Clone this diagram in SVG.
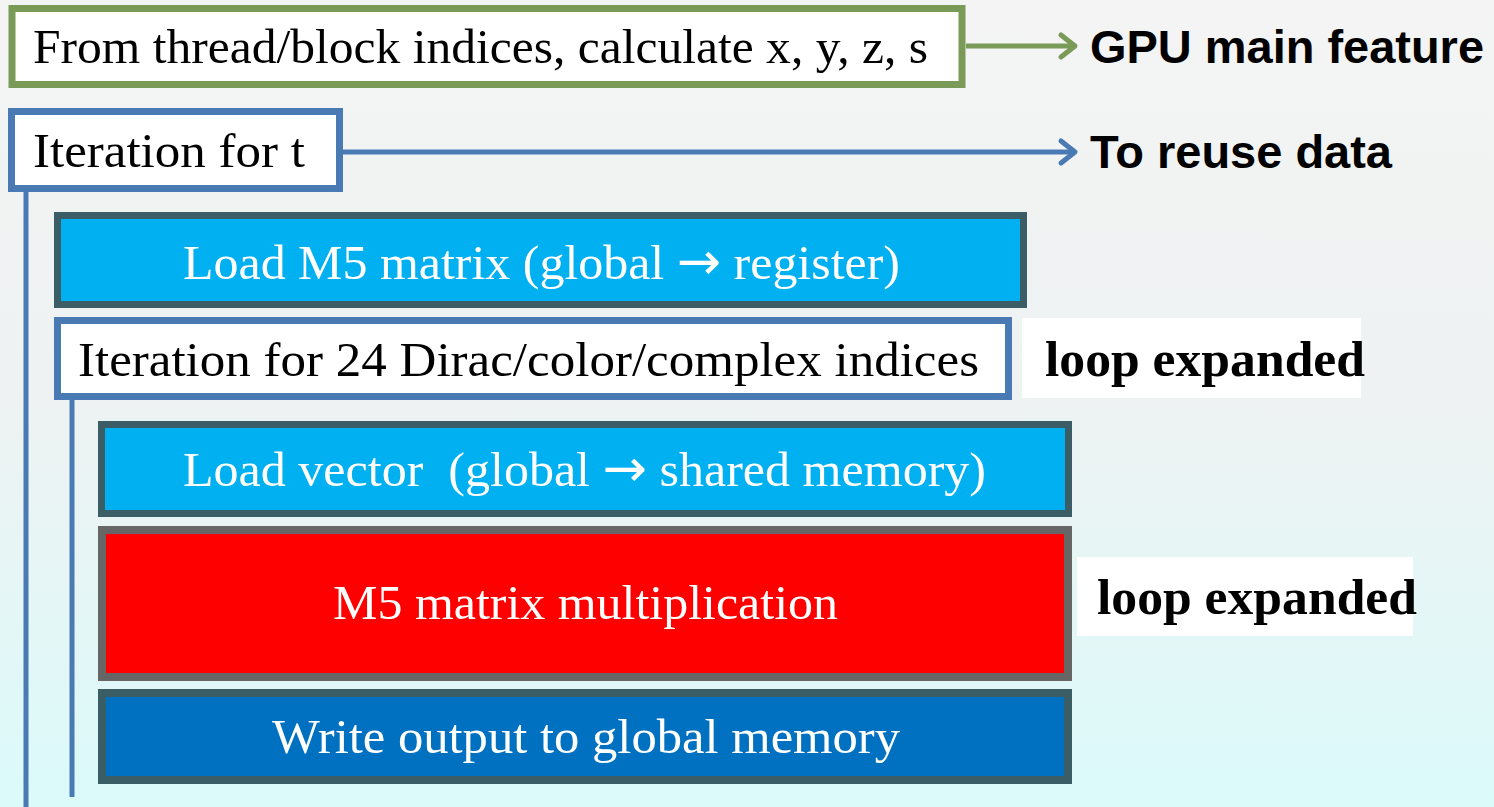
<svg xmlns="http://www.w3.org/2000/svg" width="1494" height="807" viewBox="0 0 1494 807">
<defs>
<linearGradient id="bg" x1="0" y1="0" x2="0" y2="1">
<stop offset="0" stop-color="#f4f4f4"/>
<stop offset="0.5" stop-color="#eef2f2"/>
<stop offset="1" stop-color="#dbfafa"/>
</linearGradient>
<marker id="ahG" markerUnits="userSpaceOnUse" markerWidth="30" markerHeight="32" viewBox="-20 -16 30 32" refX="0" refY="0" orient="auto">
<path d="M-14,-11 L0,0 L-14,11" fill="none" stroke="#7a9a57" stroke-width="5" stroke-linecap="round" stroke-linejoin="round"/>
</marker>
<marker id="ahB" markerUnits="userSpaceOnUse" markerWidth="30" markerHeight="32" viewBox="-20 -16 30 32" refX="0" refY="0" orient="auto">
<path d="M-14,-11 L0,0 L-14,11" fill="none" stroke="#4a7ab4" stroke-width="5" stroke-linecap="round" stroke-linejoin="round"/>
</marker>
</defs>
<style>
.serif{font-family:"Liberation Serif","Times New Roman",serif;font-size:49px;}
.dark{fill:#000;}
.light{fill:#fff;}
.arw{font-family:"DejaVu Sans",sans-serif;font-size:52px;}
.bold{font-family:"Liberation Serif","Times New Roman",serif;font-size:51px;font-weight:bold;fill:#000;}
.sans{font-family:"Liberation Sans",Arial,sans-serif;font-size:47px;font-weight:bold;fill:#000;}
.cyan{fill:#00b0f0;stroke:#3b5e66;stroke-width:7;}
.whiteBlue{fill:#fff;stroke:#4a7ab4;stroke-width:7;}
.lbl{fill:#fff;}
</style>
<rect x="0" y="0" width="1494" height="807" fill="url(#bg)"/>

<g id="connectors">
<line x1="966" y1="46" x2="1075" y2="46" stroke="#7a9a57" stroke-width="5" marker-end="url(#ahG)"/>
<line x1="343" y1="152" x2="1075" y2="152" stroke="#4a7ab4" stroke-width="5" marker-end="url(#ahB)"/>
<line x1="26" y1="192" x2="26" y2="807" stroke="#4a7ab4" stroke-width="5"/>
<line x1="72" y1="400" x2="72" y2="797" stroke="#4a7ab4" stroke-width="5"/>
</g>

<g id="node-calc">
<rect x="12" y="8.5" width="950" height="76" fill="#fff" stroke="#7a9a57" stroke-width="7"/>
<text class="serif dark" x="33" y="63" textLength="895" lengthAdjust="spacingAndGlyphs">From thread/block indices, calculate x, y, z, s</text>
</g>

<g id="label-gpu">
<text class="sans" x="1090" y="63" textLength="394" lengthAdjust="spacingAndGlyphs">GPU main feature</text>
</g>

<g id="node-iter-t">
<rect x="11.5" y="111.5" width="328" height="77" class="whiteBlue"/>
<text class="serif dark" x="33" y="167" textLength="272" lengthAdjust="spacingAndGlyphs">Iteration for t</text>
</g>

<g id="label-reuse">
<text class="sans" x="1090" y="168" textLength="302" lengthAdjust="spacingAndGlyphs">To reuse data</text>
</g>

<g id="node-load-m5">
<rect x="57.5" y="215.5" width="966" height="89" class="cyan"/>
<text class="serif light" x="183" y="279" textLength="717" lengthAdjust="spacingAndGlyphs">Load M5 matrix (global <tspan class="arw">→</tspan> register)</text>
</g>

<g id="node-iter-24">
<rect x="57.5" y="320.5" width="951" height="76" class="whiteBlue"/>
<text class="serif dark" x="78" y="376" textLength="901" lengthAdjust="spacingAndGlyphs">Iteration for 24 Dirac/color/complex indices</text>
</g>

<g id="label-loop1">
<rect x="1022" y="318" width="339" height="80" class="lbl"/>
<text class="bold" x="1045" y="376" textLength="320" lengthAdjust="spacingAndGlyphs">loop expanded</text>
</g>

<g id="node-load-vector">
<rect x="101.5" y="424.5" width="967" height="89" class="cyan"/>
<text class="serif light" x="183" y="486" xml:space="preserve" textLength="803" lengthAdjust="spacingAndGlyphs">Load vector  (global <tspan class="arw">→</tspan> shared memory)</text>
</g>

<g id="node-m5-mult">
<rect x="102" y="530" width="966" height="147" fill="#ff0000" stroke="#666666" stroke-width="8"/>
<text class="serif light" x="333" y="619" textLength="505" lengthAdjust="spacingAndGlyphs">M5 matrix multiplication</text>
</g>

<g id="label-loop2">
<rect x="1077" y="557" width="336" height="79" class="lbl"/>
<text class="bold" x="1097" y="614" textLength="320" lengthAdjust="spacingAndGlyphs">loop expanded</text>
</g>

<g id="node-write">
<rect x="102" y="693" width="966" height="87" fill="#0070c0" stroke="#3b5e66" stroke-width="8"/>
<text class="serif light" x="272" y="753" textLength="628" lengthAdjust="spacingAndGlyphs">Write output to global memory</text>
</g>
</svg>
